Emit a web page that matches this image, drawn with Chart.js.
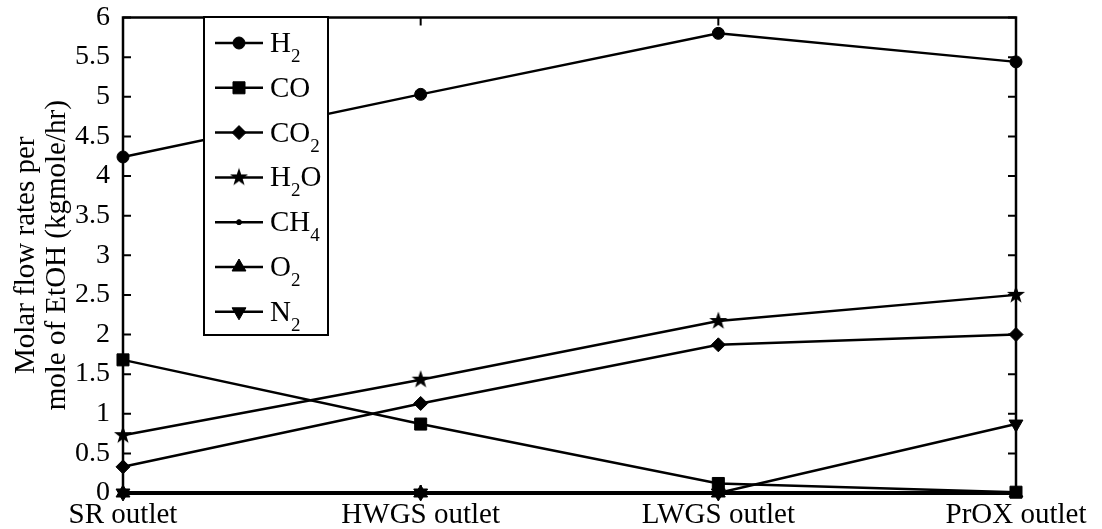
<!DOCTYPE html>
<html>
<head>
<meta charset="utf-8">
<script src="https://cdn.jsdelivr.net/npm/chart.js"></script>
<style>
  html, body { margin: 0; padding: 0; background: #fff; }
  #wrap { width: 1102px; height: 529px; }
</style>
</head>
<body>
<div id="wrap"><canvas id="flow-chart" width="1102" height="529"></canvas></div>
<script>
/* Molar flow rates along the fuel processor — line chart */

const STAGES = ['SR outlet', 'HWGS outlet', 'LWGS outlet', 'PrOX outlet'];
const Y_TICKS = [0, 0.5, 1, 1.5, 2, 2.5, 3, 3.5, 4, 4.5, 5, 5.5, 6];

const H2 = [4.24, 5.03, 5.80, 5.44];
const CO = [1.68, 0.87, 0.12, 0.01];
const CO2 = [0.33, 1.13, 1.87, 2.0];
const H2O = [0.73, 1.43, 2.17, 2.5];
const CH4 = [0, 0, 0, 0];
const O2 = [0, 0, 0, 0];
const N2 = [0, 0, 0, 0.87];

const SERIES_NAMES = ['H2', 'CO', 'CO2', 'H2O', 'CH4', 'O2', 'N2'];
const SERIES_VALUES = [H2, CO, CO2, H2O, CH4, O2, N2];

const INK = '#000';
const FONT = 'Liberation Serif';

function starCanvas(size, outer, inner) {
  var c = document.createElement('canvas');
  c.width = size; c.height = size;
  var g = c.getContext('2d');
  g.fillStyle = INK;
  g.beginPath();
  for (var i = 0; i < 10; i++) {
    var r = i % 2 === 0 ? outer : inner;
    var a = -Math.PI / 2 + i * Math.PI / 5;
    var px = size / 2 + r * Math.cos(a), py = size / 2 + r * Math.sin(a);
    if (i === 0) g.moveTo(px, py); else g.lineTo(px, py);
  }
  g.closePath();
  g.fill();
  return c;
}

const MARKERS = [
  { style: 'circle', radius: 6, rotation: 0 },
  { style: 'rect', radius: 8.5, rotation: 0 },
  { style: 'rectRot', radius: 7, rotation: 0 },
  { style: starCanvas(20, 9.5, 3.8), radius: 9, rotation: 0 },
  { style: 'circle', radius: 2.5, rotation: 0 },
  { style: 'triangle', radius: 8, rotation: 0 },
  { style: 'triangle', radius: 8, rotation: 180 }
];

function buildDatasets() {
  return SERIES_NAMES.map(function(name, i) {
    return {
      label: name,
      data: SERIES_VALUES[i],
      borderColor: INK,
      backgroundColor: INK,
      borderWidth: 2.5,
      pointStyle: MARKERS[i].style,
      pointRadius: MARKERS[i].radius,
      pointRotation: MARKERS[i].rotation,
      pointBorderWidth: 1,
      tension: 0,
      clip: false
    };
  });
}

// frame with inward ticks, like the original plot
const framePlugin = {
  id: 'frame',
  afterDatasetsDraw: function(chart) {
    var a = chart.chartArea, ctx = chart.ctx;
    var ys = chart.scales.y, xs = chart.scales.x;
    ctx.save();
    ctx.strokeStyle = INK;
    ctx.lineWidth = 2.5;
    ctx.strokeRect(a.left, a.top, a.right - a.left, a.bottom - a.top);
    ctx.lineWidth = 2;
    ctx.beginPath();
    Y_TICKS.forEach(function(t) {
      var py = ys.getPixelForValue(t);
      ctx.moveTo(a.left, py); ctx.lineTo(a.left + 8, py);
      ctx.moveTo(a.right, py); ctx.lineTo(a.right - 8, py);
    });
    STAGES.forEach(function(s, i) {
      var px = xs.getPixelForValue(i);
      ctx.moveTo(px, a.top); ctx.lineTo(px, a.top + 8);
      ctx.moveTo(px, a.bottom); ctx.lineTo(px, a.bottom - 8);
    });
    ctx.stroke();
    // the zero line reads heavier in the original, where several series sit on it
    ctx.lineWidth = 4;
    ctx.beginPath();
    ctx.moveTo(a.left, a.bottom); ctx.lineTo(a.right, a.bottom);
    ctx.stroke();
    ctx.restore();
  }
};

// stage names under each category position
const stageLabelPlugin = {
  id: 'stageLabels',
  afterDraw: function(chart) {
    var ctx = chart.ctx, xs = chart.scales.x, a = chart.chartArea;
    ctx.save();
    ctx.fillStyle = INK;
    ctx.font = '29px "' + FONT + '"';
    ctx.textAlign = 'center';
    ctx.textBaseline = 'alphabetic';
    STAGES.forEach(function(s, i) {
      ctx.fillText(s, xs.getPixelForValue(i), a.bottom + 30);
    });
    ctx.restore();
  }
};

function drawChemName(ctx, name, x, y) {
  var parts = name.match(/[A-Za-z]+|\d+/g);
  parts.forEach(function(p) {
    var sub = /\d/.test(p);
    ctx.font = (sub ? '19px "' : '29px "') + FONT + '"';
    ctx.fillText(p, x, sub ? y + 10 : y);
    x += ctx.measureText(p).width;
  });
}

const LEGEND_BOX = { left: 204, top: 17, width: 124, height: 318 };
const legendPlugin = {
  id: 'innerLegend',
  afterDraw: function(chart) {
    var ctx = chart.ctx, b = LEGEND_BOX;
    ctx.save();
    ctx.fillStyle = '#fff';
    ctx.fillRect(b.left, b.top, b.width, b.height);
    ctx.strokeStyle = INK;
    ctx.lineWidth = 2;
    ctx.strokeRect(b.left, b.top, b.width, b.height);
    SERIES_NAMES.forEach(function(name, i) {
      var rowY = b.top + 26 + i * 44.8;
      ctx.strokeStyle = INK;
      ctx.lineWidth = 2.5;
      ctx.beginPath();
      ctx.moveTo(b.left + 11, rowY); ctx.lineTo(b.left + 59, rowY);
      ctx.stroke();
      ctx.fillStyle = INK;
      ctx.lineWidth = 1;
      if (Chart.helpers && Chart.helpers.drawPoint) {
        Chart.helpers.drawPoint(ctx, {
          pointStyle: MARKERS[i].style, radius: MARKERS[i].radius,
          rotation: MARKERS[i].rotation, borderWidth: 1
        }, b.left + 35, rowY);
      }
      ctx.fillStyle = INK;
      ctx.textAlign = 'left';
      ctx.textBaseline = 'alphabetic';
      drawChemName(ctx, name, b.left + 66, rowY + 9);
    });
    ctx.restore();
  }
};

Chart.defaults.font.family = FONT;
Chart.defaults.color = INK;

new Chart(document.getElementById('flow-chart').getContext('2d'), {
  type: 'line',
  data: { labels: STAGES, datasets: buildDatasets() },
  plugins: [framePlugin, stageLabelPlugin, legendPlugin],
  options: {
    responsive: false,
    animation: false,
    layout: { padding: { top: 17.5, right: 86, bottom: 0, left: 0 } },
    scales: {
      x: {
        offset: false,
        grid: { display: false }, border: { display: false },
        ticks: { display: false },
        afterFit: function(s) { s.height = 36; }
      },
      y: {
        min: 0, max: 6,
        grid: { display: false }, border: { display: false },
        afterBuildTicks: function(s) { s.ticks = Y_TICKS.map(function(v) { return { value: v }; }); },
        ticks: {
          padding: 5, font: { size: 28 }, color: INK,
          callback: function(v) { return String(v); }
        },
        title: {
          display: true,
          text: ['Molar flow rates per', 'mole of EtOH (kgmole/hr)'],
          font: { size: 29, lineHeight: 1.1 },
          padding: { top: 10, bottom: 0 },
          color: INK
        },
        afterFit: function(s) {
          s.width = 123;
          s.paddingTop = 0;
          s.paddingBottom = 0;
        }
      }
    },
    plugins: { legend: { display: false }, tooltip: { enabled: false } }
  }
});
</script>
</body>
</html>
